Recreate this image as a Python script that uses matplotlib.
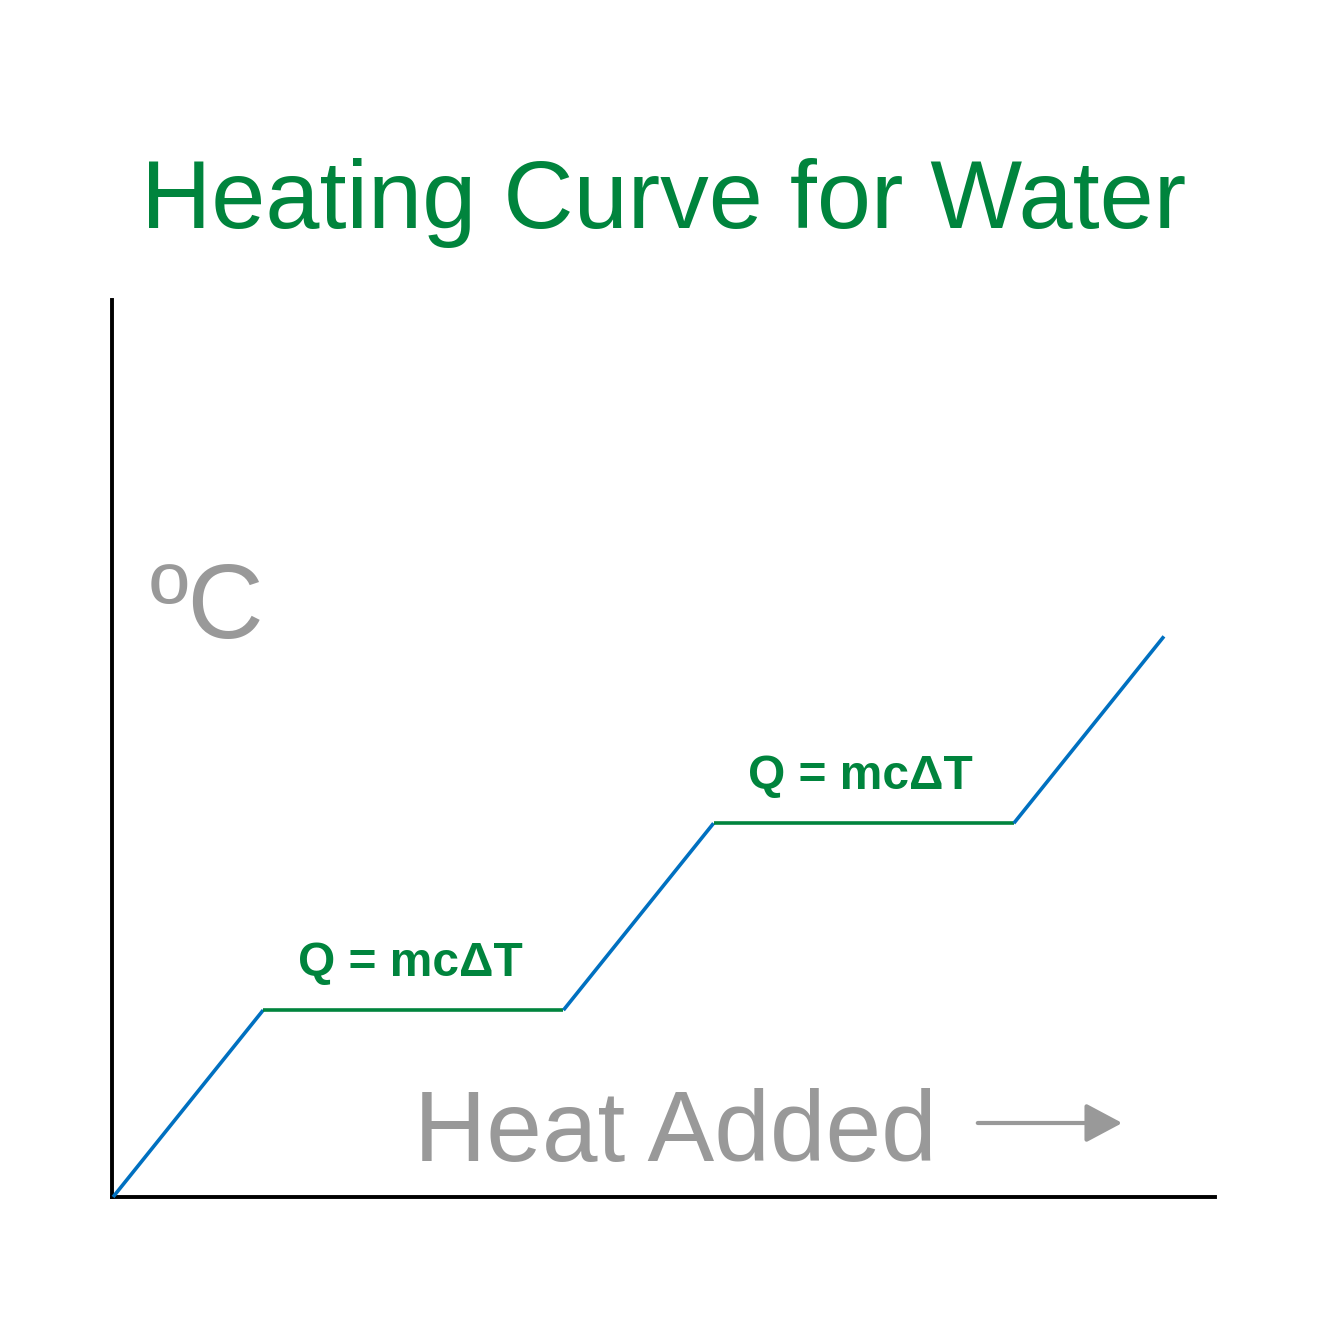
import matplotlib
matplotlib.use("Agg")
import matplotlib.pyplot as plt

# Data (abstract units): heat added vs temperature
heat = [0, 1, 3, 4, 6, 7]
temp = [0, 1, 1, 2, 2, 3]
plateau_labels = ["Q = mcΔT", "Q = mcΔT"]
title = "Heating Curve for Water"
xlabel = "Heat Added"
ylabel = "ºC"

BLUE = "#0070C0"
GREEN = "#00843D"
GRAY = "#999999"
FONT = "Liberation Sans"

W = H = 1333
fig = plt.figure(figsize=(W / 100, H / 100), dpi=100)
fig.patch.set_facecolor("white")

def fx(px):
    return px / W

def fy(py):
    return 1 - py / H

ax = fig.add_axes([fx(112), fy(1197), (1215 - 112) / W, (1197 - 300) / H])
ax.set_xlim(-0.007, 7.34)
ax.set_ylim(0, 4.8)
for s in ["top", "right"]:
    ax.spines[s].set_visible(False)
for s in ["left", "bottom"]:
    ax.spines[s].set_linewidth(2.8)
    ax.spines[s].set_color("black")
ax.set_xticks([])
ax.set_yticks([])

# rising segments blue, plateaus green
for i in range(len(heat) - 1):
    flat = temp[i] == temp[i + 1]
    ax.plot(heat[i:i + 2], temp[i:i + 2], color=GREEN if flat else BLUE,
            lw=2.6, solid_capstyle="butt", clip_on=False, zorder=3)

# plateau labels
plateaus = [(heat[i], heat[i + 1], temp[i]) for i in range(len(heat) - 1) if temp[i] == temp[i + 1]]
for (x0, x1, y), lab in zip(plateaus, plateau_labels):
    ax.text(x0 + 0.23, y + 0.185, lab, color=GREEN, fontsize=34.5, fontweight="bold",
            family=FONT, ha="left", va="baseline")

fig.text(fx(664), fy(228), title, color=GREEN, fontsize=70, family=FONT,
         ha="center", va="baseline")
fig.text(fx(150), fy(638), ylabel, color=GRAY, fontsize=76, family=FONT,
         ha="left", va="baseline")
fig.text(fx(414), fy(1161), xlabel, color=GRAY, fontsize=72, family=FONT,
         ha="left", va="baseline")

fig.patches.append(matplotlib.patches.FancyArrowPatch(
    (fx(975), fy(1123)), (fx(1125), fy(1123)), transform=fig.transFigure,
    arrowstyle="-|>,head_length=1.5,head_width=0.8", mutation_scale=15,
    color=GRAY, lw=3))

fig.savefig("out.png", dpi=100, facecolor="white")
